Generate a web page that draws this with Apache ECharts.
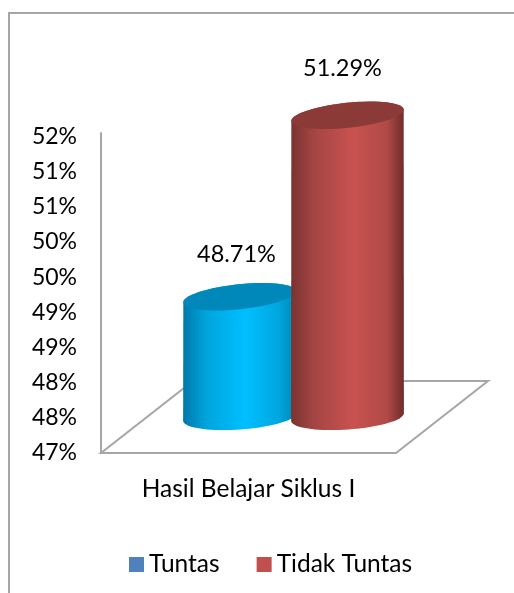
<!DOCTYPE html>
<html>
<head>
<meta charset="utf-8">
<title>Hasil Belajar Siklus I</title>
<script src="https://cdn.jsdelivr.net/npm/echarts@6/dist/echarts.min.js"></script>
<style>
  html, body { margin: 0; padding: 0; background: #fff; }
  #chart { width: 514px; height: 593px; }
</style>
</head>
<body>
<div id="chart"></div>
<script>
var categories = ['Hasil Belajar Siklus I'];
var seriesNames = ['Tuntas', 'Tidak Tuntas'];
var tuntasValues = [48.71];
var tidakTuntasValues = [51.29];
var tickLabels = ['47%', '48%', '48%', '49%', '49%', '50%', '50%', '51%', '51%', '52%'];

var FONT = 'Lato';
var GREY = '#a6a6a6';
// floor depth of the fake 3d box, cylinders stand half way in
var DEPTH_X = 92, DEPTH_Y = -72;
var CYL_RX = 56.5, CYL_RY = 12.5, CYL_SHIFT = 54;
var looks = [
  { legend: '#4f81bd', top: '#0088bb', labelDx: -3, labelDy: -42, side: -1,
    stops: ['#0079a8', '#00a4dc', '#00bfff', '#00a6df', '#0086b5'] },
  { legend: '#c0504d', top: '#8c3a38', labelDx: -5, labelDy: -47, side: 1,
    stops: ['#7a3331', '#a34543', '#c9524f', '#b04a47', '#6e2d2b'] }
];

function ellipsePts(cx, cy, tilt, from, to) {
  var pts = [], rad = tilt * Math.PI / 180;
  for (var i = 0; i <= 40; i++) {
    var a = from + (to - from) * i / 40;
    var x = CYL_RX * Math.cos(a), y = CYL_RY * Math.sin(a);
    pts.push([cx + x * Math.cos(rad) - y * Math.sin(rad), cy + x * Math.sin(rad) + y * Math.cos(rad)]);
  }
  return pts;
}

function renderCylinder(params, api) {
  var look = looks[params.seriesIndex - 1];
  var base = api.coord([api.value(0), 47]);
  var head = api.coord([api.value(0), api.value(1)]);
  var cx = base[0] + DEPTH_X / 2 + look.side * CYL_SHIFT - 1;
  var by = base[1] + DEPTH_Y / 2;
  var ty = head[1] + DEPTH_Y / 2;
  var body = ellipsePts(cx, by, -4, 0, Math.PI).concat(ellipsePts(cx, ty, -6, Math.PI, 2 * Math.PI));
  return {
    type: 'group',
    children: [
      {
        type: 'polygon',
        shape: { points: body },
        style: {
          fill: new echarts.graphic.LinearGradient(0, 0, 1, 0, [
            { offset: 0, color: look.stops[0] },
            { offset: 0.2, color: look.stops[1] },
            { offset: 0.55, color: look.stops[2] },
            { offset: 0.85, color: look.stops[3] },
            { offset: 1, color: look.stops[4] }
          ])
        }
      },
      {
        type: 'polygon',
        shape: { points: ellipsePts(cx, ty, -6, 0, 2 * Math.PI) },
        style: { fill: look.top }
      },
      {
        type: 'text',
        style: {
          x: cx + look.labelDx,
          y: ty + look.labelDy,
          text: api.value(1).toFixed(2) + '%',
          fill: '#000',
          font: '23.5px ' + FONT,
          align: 'center',
          verticalAlign: 'middle'
        }
      }
    ]
  };
}

function renderFloor(params, api) {
  var p = api.coord([0, 47]);
  var w = api.size([1, 0])[0];
  var l = p[0] - w / 2, r = p[0] + w / 2, y = p[1];
  return {
    type: 'polygon',
    shape: { points: [[l, y], [r, y], [r + DEPTH_X, y + DEPTH_Y], [l + DEPTH_X, y + DEPTH_Y]] },
    style: { fill: '#fff', stroke: GREY, lineWidth: 2 }
  };
}

var chart = echarts.init(document.getElementById('chart'), null, { renderer: 'canvas' });
chart.setOption({
  animation: false,
  backgroundColor: '#fff',
  graphic: [{
    type: 'polyline',
    shape: { points: [[9, 600], [9, 13], [520, 13]] },
    style: { stroke: GREY, lineWidth: 2, fill: null },
    silent: true
  }],
  legend: {
    left: 129,
    top: 552,
    padding: 0,
    itemWidth: 15,
    itemHeight: 15,
    itemGap: 37,
    textStyle: { fontFamily: FONT, fontSize: 24.5, color: '#000' },
    data: [
      { name: seriesNames[0], icon: 'rect', itemStyle: { color: looks[0].legend } },
      { name: seriesNames[1], icon: 'rect', itemStyle: { color: looks[1].legend } }
    ]
  },
  grid: { left: 101, right: 118, top: 133, bottom: 140 },
  xAxis: {
    type: 'category',
    data: categories,
    axisLine: { show: false },
    axisTick: { show: false },
    axisLabel: { fontFamily: FONT, fontSize: 24.5, color: '#000', margin: 24 }
  },
  yAxis: {
    type: 'value',
    min: 47,
    max: 51.55,
    interval: 0.5,
    splitLine: { show: false },
    axisTick: { show: false },
    axisLine: { show: true, lineStyle: { color: GREY, width: 2 } },
    axisLabel: {
      fontFamily: FONT, fontSize: 23, color: '#000', margin: 24,
      showMaxLabel: false,
      formatter: function (v, i) { return tickLabels[i]; }
    }
  },
  series: [
    { type: 'custom', name: 'lantai', silent: true, z: 1, renderItem: renderFloor, data: [[0, 47]], encode: { x: 0, y: 1 } },
    { type: 'custom', name: seriesNames[0], z: 2, renderItem: renderCylinder, data: [[0, tuntasValues[0]]], encode: { x: 0, y: 1 } },
    { type: 'custom', name: seriesNames[1], z: 3, renderItem: renderCylinder, data: [[0, tidakTuntasValues[0]]], encode: { x: 0, y: 1 } }
  ]
});
</script>
</body>
</html>
